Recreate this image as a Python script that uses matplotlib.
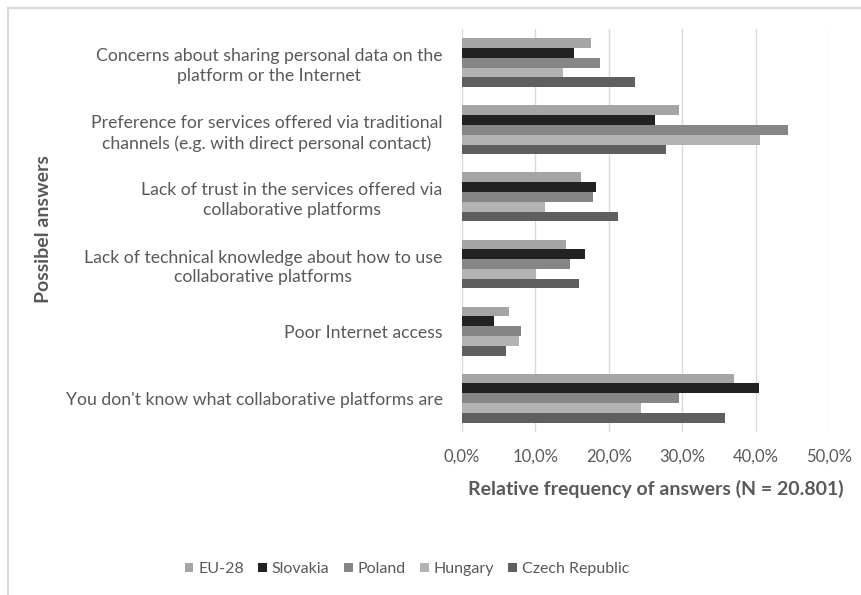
import matplotlib.pyplot as plt
import numpy as np
from matplotlib.lines import Line2D
from matplotlib.ticker import FuncFormatter, MultipleLocator

plt.rcParams["font.family"] = ["Lato", "DejaVu Sans"]

# Answers, top to bottom
answers = [
    "Concerns about sharing personal data on the\nplatform or the Internet",
    "Preference for services offered via traditional\nchannels (e.g. with direct personal contact)",
    "Lack of trust in the services offered via\ncollaborative platforms",
    "Lack of technical knowledge about how to use\ncollaborative platforms",
    "Poor Internet access",
    "You don't know what collaborative platforms are",
]
countries = ["EU-28", "Slovakia", "Poland", "Hungary", "Czech Republic"]

# share of respondents (%) per answer
eu28 = [17.6, 29.6, 16.2, 14.2, 6.4, 37.0]
slovakia = [15.3, 26.3, 18.2, 16.7, 4.4, 40.4]
poland = [18.8, 44.4, 17.9, 14.7, 8.1, 29.6]
hungary = [13.8, 40.6, 11.3, 10.1, 7.8, 24.4]
czech = [23.6, 27.8, 21.3, 15.9, 6.0, 35.8]

series = [eu28, slovakia, poland, hungary, czech]
colors = ["#a5a5a5", "#222222", "#868686", "#b3b3b3", "#5f5f5f"]
text_color = "#595959"

fig = plt.figure(figsize=(8.62, 5.95), dpi=100)
ax = fig.add_axes([0.536, 0.2745, 0.4257, 0.6763])

y = np.arange(len(answers))
h = 0.146
for j, (vals, c, name) in enumerate(zip(series, colors, countries)):
    ax.barh(y + (j - 2) * h, vals, height=h, color=c, label=name, zorder=3)

ax.set_ylim(len(answers) - 0.5, -0.5)
ax.set_xlim(0, 50)
ax.xaxis.set_major_locator(MultipleLocator(10))
ax.xaxis.set_major_formatter(FuncFormatter(lambda v, _: f"{v:.1f}%".replace(".", ",")))
ax.grid(axis="x", color="#d9d9d9", linewidth=1.0, zorder=0)

ax.set_yticks(y)
ax.set_yticklabels(answers, fontsize=12.7, color=text_color)
plt.setp(ax.get_yticklabels(), multialignment="center", linespacing=1.3)
ax.tick_params(axis="y", length=0, pad=14)
ax.tick_params(axis="x", length=0, pad=12, labelsize=12, labelcolor=text_color)
for s in ax.spines.values():
    s.set_visible(False)

fig.text(656 / 862, 1 - 489 / 595, "Relative frequency of answers (N = 20.801)",
         ha="center", va="center", fontsize=14, fontweight="bold", color=text_color)
fig.text(44 / 862, 1 - 229 / 595, "Possibel answers", rotation=90,
         ha="center", va="center", fontsize=14, fontweight="bold", color=text_color)

fig.legend(loc="center", bbox_to_anchor=(407 / 862, 1 - 569 / 595), ncol=5,
           frameon=False, fontsize=11.5, labelcolor=text_color,
           handlelength=0.55, handleheight=0.55, handletextpad=0.3,
           columnspacing=0.9)

# outer chart frame (only top and left edges fall inside the image)
frame = dict(color="#d9d9d9", linewidth=1.5, transform=fig.transFigure)
fig.add_artist(Line2D([8.5 / 862, 1], [1 - 7.5 / 595] * 2, **frame))
fig.add_artist(Line2D([8.5 / 862] * 2, [0, 1 - 7.5 / 595], **frame))

fig.savefig("out.png", dpi=100)
